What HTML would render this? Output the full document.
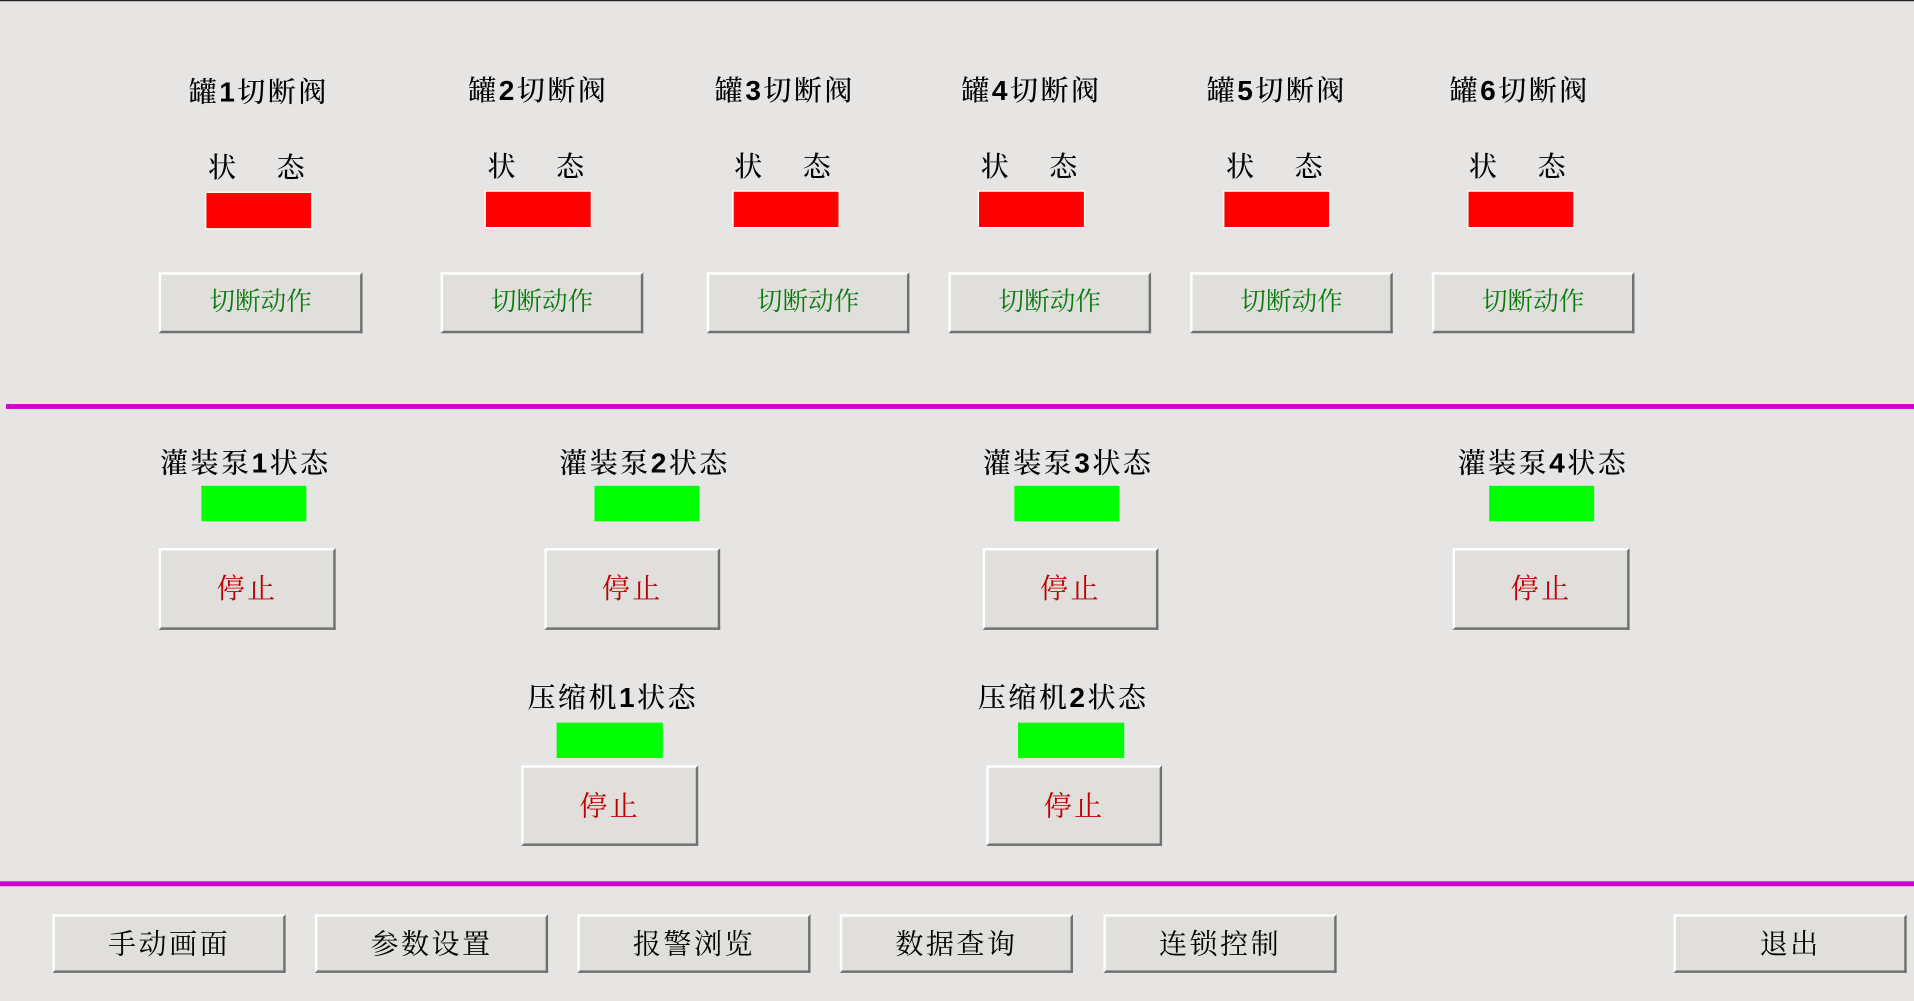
<!DOCTYPE html>
<html><head><meta charset="utf-8"><style>
html,body{margin:0;padding:0;width:1914px;height:1001px;overflow:hidden;background:#e6e5e3;}
#w{position:absolute;left:0;top:0;width:1568px;height:820px;transform:scale(1.22066);transform-origin:0 0;font-family:"Liberation Serif","Noto Serif CJK SC",serif;}
.a{position:absolute;}
.t{position:absolute;width:240px;margin-left:-120px;text-align:center;font-size:23px;color:#000;line-height:26px;font-weight:500;letter-spacing:2px;}
.t b{font-family:"Liberation Sans",sans-serif;font-weight:bold;}
.st{letter-spacing:4px;}
.r{position:absolute;background:#ff0000;width:86px;height:29px;outline:1px solid #fff;}
.g{position:absolute;background:#00ff00;width:86px;height:29px;}
.bt{position:absolute;box-sizing:border-box;background:#e1dfdc;border-top:2px solid #fff;border-left:2px solid #fff;border-right:2px solid #707070;border-bottom:2px solid #707070;display:flex;align-items:center;justify-content:center;padding-bottom:4px;}
.c{color:#0a7a10;font-size:21px;}
.s{color:#c00000;font-size:23px;letter-spacing:2px;}
.k{color:#000;font-size:23px;letter-spacing:2px;}
.m{position:absolute;background:#d000d0;height:4px;}
</style></head><body><div id="w">
<div class="a" style="left:0;top:0;width:1568px;height:1px;background:#222"></div>

<div class="t" style="left:212px;top:62px">罐<b>1</b>切断阀</div>
<div class="t" style="left:441px;top:61px">罐<b>2</b>切断阀</div>
<div class="t" style="left:643px;top:61px">罐<b>3</b>切断阀</div>
<div class="t" style="left:845px;top:61px">罐<b>4</b>切断阀</div>
<div class="t" style="left:1046px;top:61px">罐<b>5</b>切断阀</div>
<div class="t" style="left:1245px;top:61px">罐<b>6</b>切断阀</div>

<div class="t st" style="left:212px;top:125px">状&nbsp;&nbsp;&nbsp;态</div>
<div class="t st" style="left:441px;top:124px">状&nbsp;&nbsp;&nbsp;态</div>
<div class="t st" style="left:643px;top:124px">状&nbsp;&nbsp;&nbsp;态</div>
<div class="t st" style="left:845px;top:124px">状&nbsp;&nbsp;&nbsp;态</div>
<div class="t st" style="left:1046px;top:124px">状&nbsp;&nbsp;&nbsp;态</div>
<div class="t st" style="left:1245px;top:124px">状&nbsp;&nbsp;&nbsp;态</div>

<div class="r" style="left:169px;top:158px"></div>
<div class="r" style="left:398px;top:157px"></div>
<div class="r" style="left:601px;top:157px"></div>
<div class="r" style="left:802px;top:157px"></div>
<div class="r" style="left:1003px;top:157px"></div>
<div class="r" style="left:1203px;top:157px"></div>

<div class="bt c" style="left:130px;top:223px;width:167px;height:50px">切断动作</div>
<div class="bt c" style="left:361px;top:223px;width:166px;height:50px">切断动作</div>
<div class="bt c" style="left:579px;top:223px;width:166px;height:50px">切断动作</div>
<div class="bt c" style="left:777px;top:223px;width:166px;height:50px">切断动作</div>
<div class="bt c" style="left:975px;top:223px;width:166px;height:50px">切断动作</div>
<div class="bt c" style="left:1173px;top:223px;width:166px;height:50px">切断动作</div>

<div class="m" style="left:5px;top:331px;width:1563px"></div>

<div class="t" style="left:201px;top:366px">灌装泵<b>1</b>状态</div>
<div class="t" style="left:528px;top:366px">灌装泵<b>2</b>状态</div>
<div class="t" style="left:875px;top:366px">灌装泵<b>3</b>状态</div>
<div class="t" style="left:1264px;top:366px">灌装泵<b>4</b>状态</div>

<div class="g" style="left:165px;top:398px"></div>
<div class="g" style="left:487px;top:398px"></div>
<div class="g" style="left:831px;top:398px"></div>
<div class="g" style="left:1220px;top:398px"></div>

<div class="bt s" style="left:130px;top:449px;width:145px;height:67px">停止</div>
<div class="bt s" style="left:446px;top:449px;width:144px;height:67px">停止</div>
<div class="bt s" style="left:805px;top:449px;width:144px;height:67px">停止</div>
<div class="bt s" style="left:1190px;top:449px;width:145px;height:67px">停止</div>

<div class="t" style="left:502px;top:558px">压缩机<b>1</b>状态</div>
<div class="t" style="left:871px;top:558px">压缩机<b>2</b>状态</div>
<div class="g" style="left:456px;top:592px;width:87px"></div>
<div class="g" style="left:834px;top:592px;width:87px"></div>
<div class="bt s" style="left:427px;top:627px;width:145px;height:66px">停止</div>
<div class="bt s" style="left:808px;top:627px;width:144px;height:66px">停止</div>

<div class="m" style="left:0;top:722px;width:1568px"></div>

<div class="bt k" style="left:43px;top:749px;width:191px;height:48px">手动画面</div>
<div class="bt k" style="left:258px;top:749px;width:191px;height:48px">参数设置</div>
<div class="bt k" style="left:473px;top:749px;width:191px;height:48px">报警浏览</div>
<div class="bt k" style="left:688px;top:749px;width:191px;height:48px">数据查询</div>
<div class="bt k" style="left:904px;top:749px;width:191px;height:48px">连锁控制</div>
<div class="bt k" style="left:1371px;top:749px;width:191px;height:48px">退出</div>
</div></body></html>
